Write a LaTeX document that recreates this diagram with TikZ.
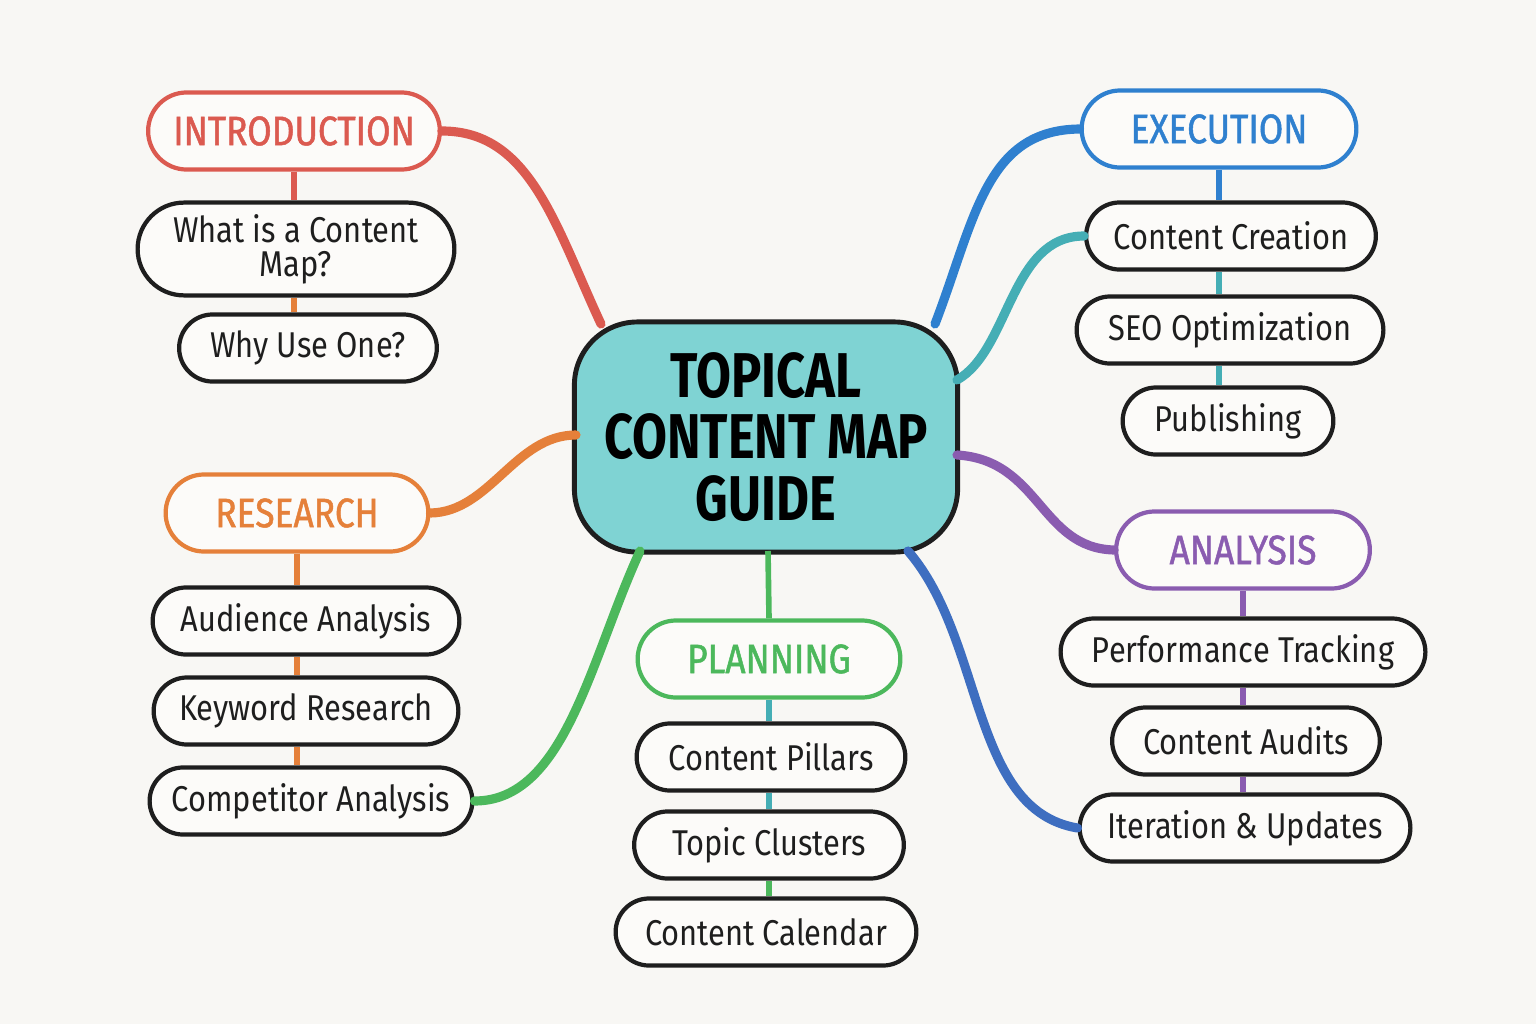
\documentclass[tikz,border=0pt]{standalone}
\usepackage{fontspec}
\setmainfont{Fira Sans}[FakeStretch=0.86]
\newfontfamily\hubfont{Fira Sans}[FakeStretch=0.80]
\newfontfamily\topicfont{Fira Sans}[FakeStretch=0.86, FakeBold=1.2]
\usetikzlibrary{shapes.misc}

\definecolor{paper}{HTML}{F8F7F4}
\definecolor{pill}{HTML}{FCFBF9}
\definecolor{ink}{HTML}{1E1E1E}
\definecolor{hubfill}{HTML}{7FD3D3}
\definecolor{introcol}{HTML}{DB5A50}
\definecolor{linkorange}{HTML}{E5803A}
\definecolor{plancol}{HTML}{4CB85C}
\definecolor{execcol}{HTML}{2F80CF}
\definecolor{tealcol}{HTML}{45AEB5}
\definecolor{analcol}{HTML}{8A5CB0}
\definecolor{indigo}{HTML}{3E6EC0}

\tikzset{
  hub/.style={rectangle, rounded corners=18pt, draw=ink, line width=1.4pt, fill=hubfill,
    minimum width=3.83cm, minimum height=2.30cm, align=center,
    font=\hubfont\fontsize{18}{17.4}\selectfont\bfseries},
  topic/.style={rounded rectangle, draw=#1, line width=1.2pt, fill=pill, text=#1,
    minimum height=0.77cm, font=\topicfont\fontsize{11.7}{14}\selectfont},
  item/.style={rounded rectangle, draw=ink, line width=1.2pt, fill=pill, text=ink,
    minimum height=0.67cm, font=\fontsize{10.2}{9.6}\selectfont},
  branch/.style={draw=#1, line width=2.6pt, line cap=round},
  link/.style={draw=#1, line width=1.5pt}
}

\begin{document}
\begin{tikzpicture}[x=0.01cm, y=-0.01cm]

  \fill[paper] (0,0) rectangle (1536,1024);

  % centre
  \node[hub] (guide) at (766,437) {TOPICAL\\CONTENT MAP\\GUIDE};

  % introduction
  \node[topic=introcol, minimum width=3.15cm] (intro) at (294,131) {INTRODUCTION};
  \node[item, minimum width=3.40cm, minimum height=0.92cm, align=center] (whatis) at (296,249) {What is a Content\\Map?};
  \node[item, minimum width=2.81cm] (whyuse) at (308,348) {Why Use One?};

  % research
  \node[topic=linkorange, minimum width=2.86cm] (research) at (297,513) {RESEARCH};
  \node[item, minimum width=3.30cm] (audience) at (306,621) {Audience Analysis};
  \node[item, minimum width=3.28cm] (keyword) at (306,711) {Keyword Research};
  \node[item, minimum width=3.46cm] (compet) at (311,801) {Competitor Analysis};

  % planning
  \node[topic=plancol, minimum width=2.86cm] (planning) at (769,659) {PLANNING};
  \node[item, minimum width=2.92cm] (pillars) at (771,757) {Content Pillars};
  \node[item, minimum width=2.93cm] (clusters) at (769,845) {Topic Clusters};
  \node[item, minimum width=3.24cm] (calendar) at (766,932) {Content Calendar};

  % execution
  \node[topic=execcol, minimum width=2.98cm] (execution) at (1219,129) {EXECUTION};
  \node[item, minimum width=3.13cm] (creation) at (1231,236) {Content Creation};
  \node[item, minimum width=3.30cm] (seo) at (1230,330) {SEO Optimization};
  \node[item, minimum width=2.34cm] (publish) at (1228,421) {Publishing};

  % analysis
  \node[topic=analcol, minimum width=2.77cm] (analysis) at (1243,550) {ANALYSIS};
  \node[item, minimum width=3.88cm] (tracking) at (1243,652) {Performance Tracking};
  \node[item, minimum width=2.91cm] (audits) at (1246,741) {Content Audits};
  \node[item, minimum width=3.54cm] (iterate) at (1245,828) {Iteration \& Updates};

  % ends on the centre box
  \coordinate (hubA) at (601,324);
  \coordinate (hubB) at (576,435);
  \coordinate (hubC) at (640,551);
  \coordinate (hubD) at (768,551);
  \coordinate (hubE) at (908,551);
  \coordinate (hubF) at (957,455);
  \coordinate (hubG) at (957,380);
  \coordinate (hubH) at (935,324);

  % main branches
  \path[branch=introcol] (intro.east) .. controls (530,131) and (555,225) .. (hubA);
  \path[branch=linkorange] (research.east) .. controls (490,512) and (515,435) .. (hubB);
  \path[branch=plancol] (hubC) .. controls (590,660) and (565,801) .. (compet.east);
  \path[draw=plancol, line width=1.6pt] (hubD) -- (planning.north);
  \path[branch=indigo] (hubE) .. controls (985,640) and (970,810) .. (iterate.west);
  \path[branch=analcol] (hubF) .. controls (1040,460) and (1040,548) .. (analysis.west);
  \path[branch=tealcol] (hubG) .. controls (1010,350) and (1010,236) .. (creation.west);
  \path[branch=execcol] (hubH) .. controls (975,220) and (985,130) .. (execution.west);

  % short links
  \path[link=introcol] (intro.south) -- (intro.south |- whatis.north);
  \path[link=linkorange] (intro.south |- whatis.south) -- (intro.south |- whyuse.north);
  \path[link=linkorange] (research.south) -- (research.south |- audience.north);
  \path[link=linkorange] (research.south |- audience.south) -- (research.south |- keyword.north);
  \path[link=linkorange] (research.south |- keyword.south) -- (research.south |- compet.north);
  \path[link=tealcol] (planning.south) -- (planning.south |- pillars.north);
  \path[link=tealcol] (planning.south |- pillars.south) -- (planning.south |- clusters.north);
  \path[link=plancol] (planning.south |- clusters.south) -- (planning.south |- calendar.north);
  \path[link=execcol] (execution.south) -- (execution.south |- creation.north);
  \path[link=tealcol] (execution.south |- creation.south) -- (execution.south |- seo.north);
  \path[link=tealcol] (execution.south |- seo.south) -- (execution.south |- publish.north);
  \path[link=analcol] (analysis.south) -- (analysis.south |- tracking.north);
  \path[link=analcol] (analysis.south |- tracking.south) -- (analysis.south |- audits.north);
  \path[link=analcol] (analysis.south |- audits.south) -- (analysis.south |- iterate.north);

\end{tikzpicture}
\end{document}
